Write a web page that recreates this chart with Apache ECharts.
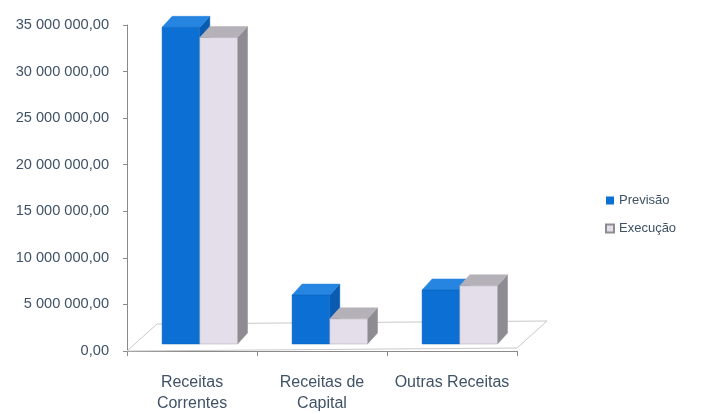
<!DOCTYPE html>
<html><head><meta charset="utf-8">
<script src="https://cdn.jsdelivr.net/npm/echarts@6/dist/echarts.min.js"></script>
<style>html,body{margin:0;padding:0;background:#fff}#c{width:722px;height:414px}</style>
</head><body><div id="c"></div>
<script>
const categories = ['Receitas\nCorrentes', 'Receitas de\nCapital', 'Outras Receitas'];
const seriesNames = ['Previsão', 'Execução'];
const previsao = [34000000, 5250000, 5800000];
const execucao = [32900000, 2700000, 6250000];
const yTicks = { min: 0, max: 35000000, interval: 5000000 };

const chart = echarts.init(document.getElementById('c'), null, { renderer: 'canvas' });

const palettes = [
  { front: '#0b6fd3', top: '#2585e0', side: '#0a5cb0', stroke: '#0a60b8' },
  { front: '#e3dee9', top: '#b4b1b8', side: '#8e8b92', stroke: '#a8a4ad' }
];
const DX = 10, DY = -11, LIFT = -7;

function fmt(v) {
  const s = Math.round(v).toString().replace(/\B(?=(\d{3})+(?!\d))/g, ' ');
  return s + ',00';
}

function barRender(params, api) {
  const s = params.seriesIndex - 1;
  const p = palettes[s];
  const i = api.value(0), v = api.value(1);
  const base = api.coord([i, 0]);
  const top = api.coord([i, v]);
  const band = api.size([1, 0])[0];
  const w = band * 0.29;
  const x0 = base[0] - band / 2 + band * 0.27 + s * w;
  const yb = base[1] + LIFT, yt = top[1] + LIFT;
  return {
    type: 'group',
    children: [
      { type: 'polygon', shape: { points: [[x0 + w, yb], [x0 + w + DX, yb + DY], [x0 + w + DX, yt + DY], [x0 + w, yt]] },
        style: { fill: p.side, stroke: p.side, lineWidth: 0.5 } },
      { type: 'polygon', shape: { points: [[x0, yt], [x0 + DX, yt + DY], [x0 + w + DX, yt + DY], [x0 + w, yt]] },
        style: { fill: p.top, stroke: p.top, lineWidth: 0.5 } },
      { type: 'rect', shape: { x: x0, y: yt, width: w, height: yb - yt },
        style: { fill: p.front, stroke: p.stroke, lineWidth: 0.5 } }
    ]
  };
}

function floorRender(params, api) {
  const band = api.size([1, 0])[0];
  const a = api.coord([0, 0]);
  const b = api.coord([categories.length - 1, 0]);
  const xl = a[0] - band / 2, xr = b[0] + band / 2, y = a[1];
  const fx = 30, fy = -27;
  return {
    type: 'polygon',
    shape: { points: [[xl, y], [xl + fx, y + fy], [xr + fx, y + fy - 3], [xr, y - 3]] },
    style: { fill: 'rgba(0,0,0,0)', stroke: '#c8c8c8', lineWidth: 1 }
  };
}

chart.setOption({
  animation: false,
  textStyle: { fontFamily: 'Liberation Sans, sans-serif' },
  grid: { left: 127, right: 205, top: 25, bottom: 59 },
  legend: {
    orient: 'vertical', left: 600, top: 189, itemGap: 15,
    itemWidth: 8, itemHeight: 8, icon: 'rect',
    data: seriesNames,
    textStyle: { color: '#3f5266', fontSize: 13, fontFamily: 'Liberation Sans, sans-serif' }
  },
  xAxis: {
    type: 'category', data: categories,
    axisLine: { lineStyle: { color: '#8a8a8a' } },
    axisTick: { show: true, length: 5, alignWithLabel: false, lineStyle: { color: '#8a8a8a' } },
    axisLabel: { color: '#3f5266', fontSize: 16, lineHeight: 21, margin: 21, interval: 0 }
  },
  yAxis: {
    type: 'value', min: yTicks.min, max: yTicks.max, interval: yTicks.interval,
    axisLine: { show: true, lineStyle: { color: '#8a8a8a' } },
    axisTick: { show: true, length: 4, lineStyle: { color: '#8a8a8a' } },
    splitLine: { show: false },
    axisLabel: { color: '#3f5266', fontSize: 14.6, margin: 18, formatter: fmt }
  },
  series: [
    { type: 'custom', name: 'floor', data: [[0, 0]], renderItem: floorRender, z: 1, silent: true,
      encode: { x: 0, y: 1 } },
    { type: 'custom', name: seriesNames[0], data: previsao.map((v, i) => [i, v]), renderItem: barRender, z: 2,
      itemStyle: { color: palettes[0].front }, encode: { x: 0, y: 1 } },
    { type: 'custom', name: seriesNames[1], data: execucao.map((v, i) => [i, v]), renderItem: barRender, z: 3,
      itemStyle: { color: palettes[1].front, borderColor: '#8e8b92', borderWidth: 1 }, encode: { x: 0, y: 1 } }
  ]
});
</script></body></html>
